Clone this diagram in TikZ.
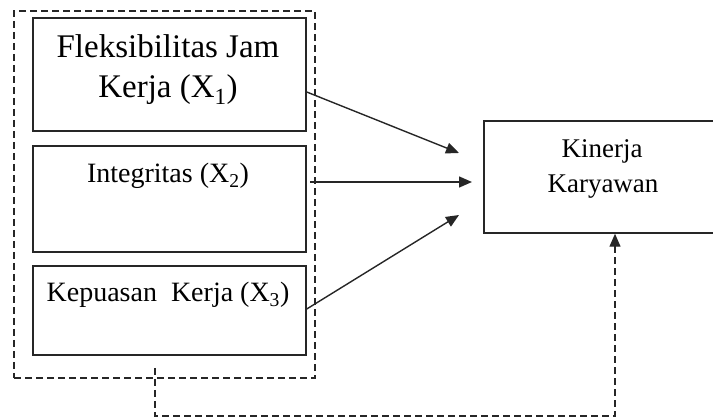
\documentclass[tikz,border=0pt]{standalone}
\usepackage{fontspec}
\setmainfont{Liberation Serif}
\usetikzlibrary{arrows.meta}
\tikzset{
  boxline/.style={draw=black!85, line width=1.5pt, rectangle, inner sep=0pt},
  dashline/.style={draw=black!85, line width=1.4pt, dash pattern=on 7pt off 4pt},
  arrowline/.style={draw=black!85, line width=1.4pt, -{Triangle[length=13pt,width=11pt]}},
  lbl/.style={anchor=base, inner sep=0pt, font=\fontsize{28}{34}\selectfont},
  biglbl/.style={anchor=base, inner sep=0pt, font=\fontsize{33}{40}\selectfont},
}
\begin{document}
\begin{tikzpicture}[x=1pt,y=-1pt]
\useasboundingbox (0,0) rectangle (713,419);
\clip (0,0) rectangle (713,419);
% outer dashed group
\node[dashline, rectangle, inner sep=0pt, minimum width=301pt, minimum height=367pt] (grp) at (164.5,194.5) {};
% independent variable boxes
\node[boxline, minimum width=273pt, minimum height=113pt] (b1) at (169.5,74.5) {};
\node[boxline, minimum width=273pt, minimum height=106pt] (b2) at (169.5,199) {};
\node[boxline, minimum width=273pt, minimum height=89pt] (b3) at (169.5,310.5) {};
% dependent box (runs off the right edge)
\node[boxline, minimum width=236pt, minimum height=112pt] (k) at (602,177) {};
% labels
\node[biglbl] (t1a) at (168,58) {Fleksibilitas Jam};
\node[biglbl] (t1b) at (168,98) {Kerja (X\textsubscript{1})};
\node[lbl] (t2) at (168,183) {Integritas (X\textsubscript{2})};
\node[lbl] (t3) at (168,302) {Kepuasan\ \ Kerja (X\textsubscript{3})};
\node[lbl, font=\fontsize{27}{34}\selectfont] (tka) at (602,158) {Kinerja};
\node[lbl, font=\fontsize{27}{34}\selectfont] (tkb) at (603,193) {Karyawan};
% arrow endpoints
\coordinate (s1) at (b1.east |- 0,92);
\coordinate (s2) at (310,182);
\coordinate (s3) at (b3.east |- 0,309);
\coordinate (e1) at (459,153);
\coordinate (e2) at (472,182);
\coordinate (e3) at (459,215);
\draw[arrowline] (s1) -- (e1);
\draw[arrowline] (s2) -- (e2);
\draw[arrowline] (s3) -- (e3);
% dashed simultaneous path
\coordinate (ds) at (155,368);
\coordinate (dc) at (615,416);
\draw[dashline, -{Triangle[length=13pt,width=11pt]}] (ds) |- (dc) -- (dc |- k.south);
\end{tikzpicture}
\end{document}
